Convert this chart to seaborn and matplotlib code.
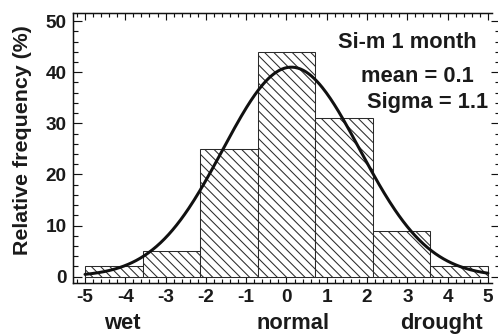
import numpy as np
import pandas as pd
import matplotlib
matplotlib.use("Agg")
import matplotlib.pyplot as plt
import seaborn as sns
from matplotlib.ticker import MultipleLocator
import matplotlib.transforms as mtransforms

# ---- data ----
bin_edges = [-5.0, -3.571, -2.143, -0.714, 0.714, 2.143, 3.571, 5.0]
rel_freq = [2, 5, 25, 44, 31, 9, 2]          # relative frequency (%)
fit_mean_label = 0.1
fit_sigma_label = 1.1
curve_peak = 41.0      # height of the fitted curve
curve_center = 0.12
curve_width = 1.7
x_ticks = [-5, -4, -3, -2, -1, 0, 1, 2, 3, 4, 5]
y_ticks = [0, 10, 20, 30, 40, 50]
class_labels = ["wet", "normal", "drought"]
class_pos = [-4.08, 0.15, 3.85]
title_text = "Si-m 1 month"

DPI = 83
sns.set_theme(style="ticks")
plt.rcParams["font.family"] = ["Liberation Sans", "DejaVu Sans"]
plt.rcParams["font.weight"] = "bold"
plt.rcParams["hatch.linewidth"] = 0.9
plt.rcParams["hatch.color"] = "#1a1a1a"

fig = plt.figure(figsize=(498 / DPI, 334 / DPI), dpi=DPI)
ax = fig.add_axes([72.5 / 498, (334 - 283) / 334, (492 - 72.5) / 498, 270 / 334])

centers = [(bin_edges[i] + bin_edges[i + 1]) / 2 for i in range(len(rel_freq))]
df = pd.DataFrame({"x": centers, "w": rel_freq})
sns.histplot(data=df, x="x", weights="w", bins=bin_edges, ax=ax,
             color="white", edgecolor="#2a2a2a", linewidth=0.9,
             hatch="\\\\\\", alpha=1.0)

xs = np.linspace(bin_edges[0], bin_edges[-1], 300)
ys = curve_peak * np.exp(-0.5 * ((xs - curve_center) / curve_width) ** 2)
sns.lineplot(x=xs, y=ys, ax=ax, color="#111111", linewidth=2.6)

ax.set_xlim(-5.31, 5.10)
ax.set_ylim(-1.25, 51.6)
ax.set_xlabel("")
ax.set_ylabel("")

ax.set_xticks(x_ticks)
ax.set_xticklabels([str(t) if t >= 0 else "-" + str(-t) for t in x_ticks])
ax.set_yticks(y_ticks)
ax.set_yticklabels([str(t) for t in y_ticks])
ax.xaxis.set_minor_locator(MultipleLocator(0.2))
ax.yaxis.set_minor_locator(MultipleLocator(2))

for s in ["left", "bottom", "top"]:
    ax.spines[s].set_visible(True)
    ax.spines[s].set_linewidth(1.3)
    ax.spines[s].set_color("#111111")
ax.spines["right"].set_visible(False)

ax.tick_params(axis="x", which="both", direction="in", top=True, bottom=True,
               width=1.0, color="#111111", labelsize=16.5, pad=5.5,
               labelcolor="#1a1a1a")
ax.tick_params(axis="x", which="major", length=6.0)
ax.tick_params(axis="x", which="minor", length=3.5)
ax.tick_params(axis="y", which="both", direction="in", left=True, right=False,
               width=1.0, color="#111111", labelsize=16.5, pad=5,
               labelcolor="#1a1a1a")
ax.tick_params(axis="y", which="major", length=8.0)
ax.tick_params(axis="y", which="minor", length=4.3)
for lab in ax.get_xticklabels() + ax.get_yticklabels():
    lab.set_fontweight("bold")

# right-hand tick marks (spine cropped off in the reference)
sec = ax.secondary_yaxis(1.0145)
sec.set_yticks(y_ticks)
sec.yaxis.set_minor_locator(MultipleLocator(2))
sec.spines["right"].set_visible(False)
sec.tick_params(which="both", direction="in", labelright=False, width=1.0,
                color="#111111")
sec.tick_params(which="major", length=6)
sec.tick_params(which="minor", length=3)

txtc = "#1a1a1a"
ax.text(4.73, 44.75, title_text, ha="right", va="baseline",
        fontsize=19, fontweight="bold", color=txtc)
ax.text(4.65, 38.0, f"mean = {fit_mean_label}", ha="right", va="baseline",
        fontsize=19, fontweight="bold", color=txtc)
ax.text(5.0, 32.95, f"Sigma = {fit_sigma_label}", ha="right", va="baseline",
        fontsize=19, fontweight="bold", color=txtc)

trans = mtransforms.blended_transform_factory(ax.transData, ax.transAxes)
for lab, pos in zip(class_labels, class_pos):
    ax.text(pos, -0.170, lab, transform=trans, ha="center", va="baseline",
            fontsize=19, fontweight="bold", color=txtc)

ax.text(-0.118, 0.53, "Relative frequency (%)", transform=ax.transAxes,
        rotation=90, ha="center", va="center", fontsize=18.5,
        fontweight="bold", color=txtc)

fig.savefig("out.png", dpi=DPI)
